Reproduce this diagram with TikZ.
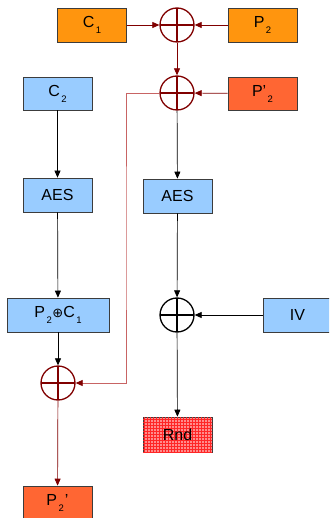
\documentclass[tikz,border=0pt]{standalone}
\usepackage{fontspec}
\setmainfont{Liberation Sans}
\newfontfamily\symfont{DejaVu Sans}
\usetikzlibrary{arrows.meta,patterns}
\definecolor{dred}{RGB}{128,0,0}
\definecolor{pinkred}{RGB}{200,100,100}
\definecolor{orng}{RGB}{255,149,14}
\definecolor{orred}{RGB}{255,102,51}
\definecolor{lblue}{RGB}{153,204,255}
\definecolor{bord}{RGB}{60,60,60}
\newcommand{\sbs}[1]{\kern1.5pt\raisebox{-6pt}{\fontsize{9.5}{10}\selectfont #1}}
\begin{document}
\begin{tikzpicture}[x=1pt,y=-1pt,
  box/.style={draw=bord, line width=0.7pt, minimum width=69pt, minimum height=34pt, inner sep=0pt,
    font=\fontsize{16}{19}\selectfont},
  xorsym/.style={circle, draw=#1, line width=1.3pt, minimum size=34pt, inner sep=0pt,
    path picture={\draw[#1, line width=2.4pt]
      (path picture bounding box.north) -- (path picture bounding box.south)
      (path picture bounding box.west) -- (path picture bounding box.east);}},
  arr/.style={draw=#1, line width=0.7pt, -{Triangle[length=7pt,width=6pt]}},
  arr/.default=black]
\useasboundingbox (0,0) rectangle (329,518);
\clip (0,0) rectangle (329,518);
% boxes
\node[box, fill=orng] (c1) at (92,25) {C\sbs{1}};
\node[box, fill=orng] (p2) at (262.5,25) {P\sbs{2}};
\node[box, fill=orred, minimum height=33pt] (pp2) at (262.5,93.5) {P'\sbs{2}};
\node[box, fill=lblue, minimum height=33pt] (c2) at (57.5,93.5) {C\sbs{2}};
\node[box, fill=lblue] (aesl) at (57.5,195) {AES};
\node[box, fill=lblue] (aesr) at (177.5,196) {AES};
\node[box, fill=lblue, minimum width=102pt] (pc) at (58,315) {P\sbs{2}\kern0.5pt{\symfont\fontsize{13}{13}\selectfont ⊕}C\sbs{1}};
\node[box, fill=lblue] (iv) at (297.5,315) {IV};
\node[box, fill=red!45, minimum height=35pt,
  postaction={pattern=grid, pattern color=red!85}] (rnd) at (177.5,434.5) {Rnd};
\node[box, fill=orred] (pb) at (57.5,503) {P\sbs{2}\kern1pt'};
% xor symbols
\node[xorsym=dred] (x1) at (177,25) {};
\node[xorsym=dred] (x2) at (177,93) {};
\node[xorsym=dred] (x3) at (58,383) {};
\node[xorsym=black] (x4) at (177,315) {};
% connectors
\draw[arr=dred] (c1) -- (x1);
\draw[arr=dred] (p2) -- (x1);
\draw[arr=dred] (x1) -- (x2);
\draw[arr=dred] (pp2) -- (x2);
\coordinate (fb) at (126,238);
\draw[draw=pinkred, line width=0.7pt, -{Triangle[length=7pt,width=6pt,color=dred]}]
  (x2.west) -| (fb) |- (x3.east);
\draw[arr] (x2) -- (aesr);
\draw[arr] (aesr) -- (x4);
\draw[arr] (iv) -- (x4);
\draw[arr] (x4) -- (rnd);
\draw[arr] (c2) -- (aesl);
\draw[arr] (aesl) -- (pc);
\draw[arr] (pc) -- (x3);
\draw[arr=dred] (x3) -- (pb);
\end{tikzpicture}
\end{document}
